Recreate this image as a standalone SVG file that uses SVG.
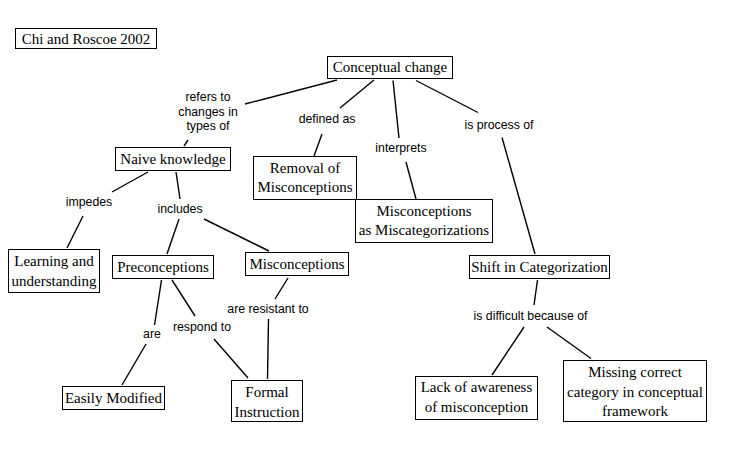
<svg xmlns="http://www.w3.org/2000/svg" width="752" height="462" viewBox="0 0 752 462">
<style>
.n rect{fill:#fff;stroke:#000;stroke-width:1}
.n text{font-family:"Liberation Serif","Times New Roman",serif;font-size:15px;fill:#000;text-anchor:middle}
.lbl{font-family:"Liberation Sans",Arial,sans-serif;font-size:12.3px;fill:#000;text-anchor:middle}
#connectors line{stroke:#000;stroke-width:1.4}
</style>
<rect width="752" height="462" fill="#fff"/>
<g id="connectors">
<line x1="337" y1="80" x2="245" y2="104"/>
<line x1="188" y1="140" x2="184" y2="146"/>
<line x1="374" y1="80" x2="340" y2="108"/>
<line x1="322" y1="134" x2="314" y2="156"/>
<line x1="393" y1="80.5" x2="399" y2="138"/>
<line x1="406" y1="162" x2="416" y2="199"/>
<line x1="416" y1="80.5" x2="478" y2="112.5"/>
<line x1="502" y1="137.5" x2="535" y2="254"/>
<line x1="148" y1="172" x2="112" y2="192"/>
<line x1="83" y1="216" x2="67" y2="248"/>
<line x1="176" y1="172" x2="180" y2="199"/>
<line x1="179" y1="219" x2="167" y2="254"/>
<line x1="204" y1="219" x2="269" y2="251"/>
<line x1="161.5" y1="280" x2="154.5" y2="325"/>
<line x1="146" y1="344" x2="122" y2="385"/>
<line x1="172" y1="280" x2="195" y2="316"/>
<line x1="214" y1="339" x2="248" y2="378"/>
<line x1="288" y1="278" x2="275" y2="299"/>
<line x1="268.5" y1="319" x2="267.5" y2="379"/>
<line x1="537.5" y1="280" x2="534" y2="305"/>
<line x1="524" y1="327" x2="492" y2="375"/>
<line x1="547" y1="327" x2="591" y2="358.5"/>
<text class="lbl" x="208" y="101">refers to</text>
<text class="lbl" x="208" y="115.5">changes in</text>
<text class="lbl" x="208" y="130">types of</text>
<text class="lbl" x="327" y="123">defined as</text>
<text class="lbl" x="401" y="151.5">interprets</text>
<text class="lbl" x="499" y="129">is process of</text>
<text class="lbl" x="89" y="206">impedes</text>
<text class="lbl" x="180" y="212.5">includes</text>
<text class="lbl" x="152" y="338">are</text>
<text class="lbl" x="202" y="330.5">respond to</text>
<text class="lbl" x="268" y="313">are resistant to</text>
<text class="lbl" x="530.5" y="320">is difficult because of</text>
</g>
<g id="chi" class="n"><rect x="15.5" y="28.5" width="141" height="20"/><text x="86" y="43.5">Chi and Roscoe 2002</text></g>
<g id="conceptual-change" class="n"><rect x="327.5" y="56.5" width="125" height="22"/><text x="390" y="72">Conceptual change</text></g>
<g id="naive-knowledge" class="n"><rect x="115.5" y="147.5" width="115" height="23"/><text x="173" y="163.5">Naive knowledge</text></g>
<g id="removal" class="n"><rect x="253.5" y="156.5" width="103" height="43"/><text x="305" y="172.5">Removal of</text><text x="305" y="191.5">Misconceptions</text></g>
<g id="miscategorizations" class="n"><rect x="355.5" y="199.5" width="137" height="43"/><text x="424" y="216">Misconceptions</text><text x="424" y="235">as Miscategorizations</text></g>
<g id="shift" class="n"><rect x="469.5" y="255.5" width="140" height="23"/><text x="539.5" y="271.5">Shift in Categorization</text></g>
<g id="learning" class="n"><rect x="8.5" y="249.5" width="91" height="43"/><text x="54" y="265.5">Learning and</text><text x="54" y="285.5">understanding</text></g>
<g id="preconceptions" class="n"><rect x="112.5" y="255.5" width="101" height="23"/><text x="163" y="271.5">Preconceptions</text></g>
<g id="misconceptions" class="n"><rect x="245.5" y="252.5" width="103" height="23"/><text x="297" y="268.5">Misconceptions</text></g>
<g id="easily-modified" class="n"><rect x="62.5" y="386.5" width="102" height="23"/><text x="113.5" y="402.5">Easily Modified</text></g>
<g id="formal-instruction" class="n"><rect x="231.5" y="380.5" width="71" height="41"/><text x="267" y="396.5">Formal</text><text x="267" y="416.5">Instruction</text></g>
<g id="lack-awareness" class="n"><rect x="415.5" y="376.5" width="122" height="43"/><text x="476.5" y="392">Lack of awareness</text><text x="476.5" y="412">of misconception</text></g>
<g id="missing-category" class="n"><rect x="563.5" y="360.5" width="143" height="61"/><text x="635" y="376.5">Missing correct</text><text x="635" y="396.5">category in conceptual</text><text x="635" y="416">framework</text></g>
</svg>
